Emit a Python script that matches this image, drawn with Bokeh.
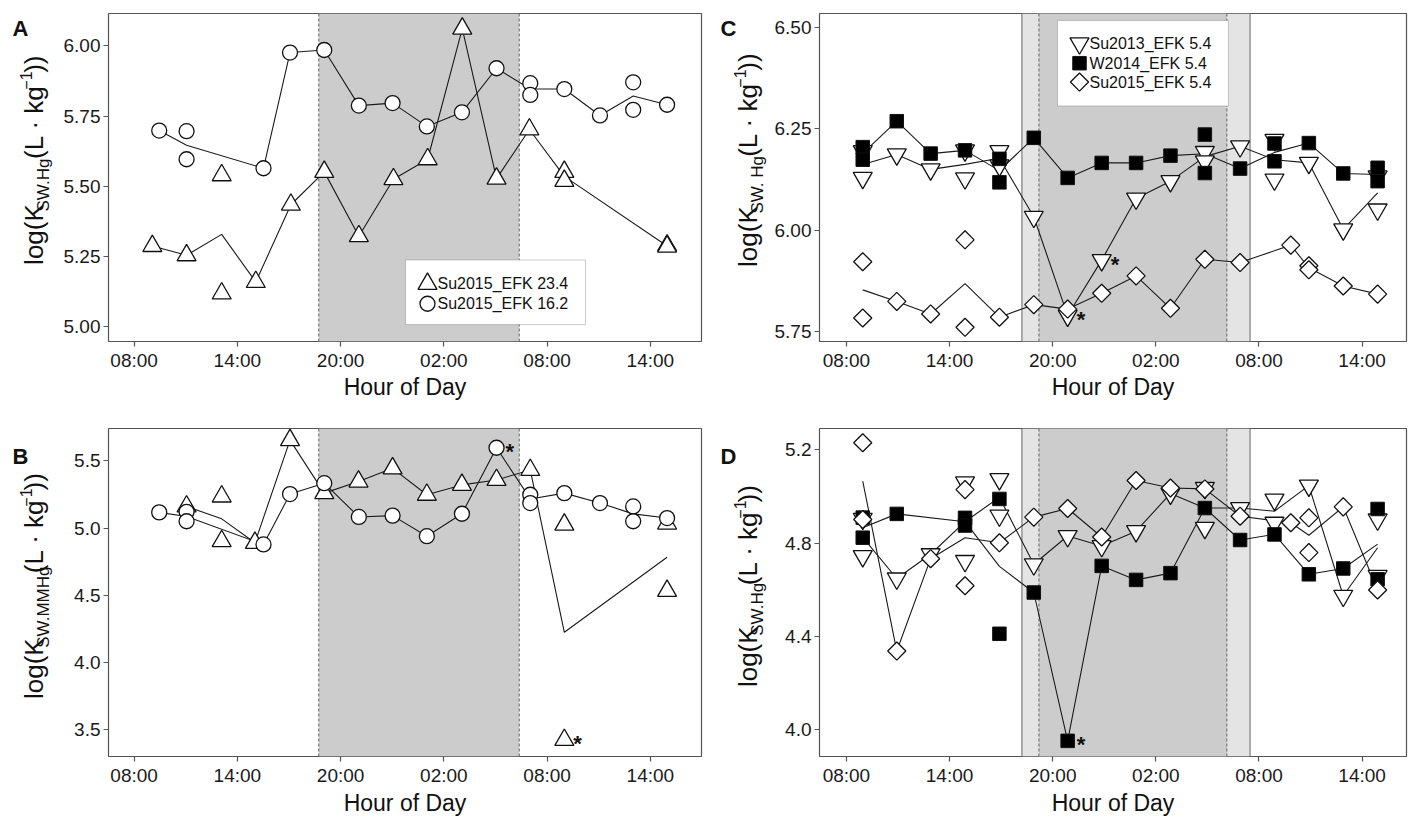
import numpy as np
from bokeh.plotting import figure
from bokeh.models import Label, BoxAnnotation, Span, FixedTicker, Range1d, NumeralTickFormatter
from bokeh.layouts import column, row
from bokeh.embed import file_html
from bokeh.resources import INLINE

FONT = "Liberation Sans"

# ---------------- data ----------------
hour_ticks = [8, 14, 20, 26, 32, 38]
hour_tick_labels = ["08:00", "14:00", "20:00", "02:00", "08:00", "14:00"]

# Panel A  (log K_SW.Hg)
a_su15_234_x = [9.06, 11.05, 13.09, 13.09, 15.07, 17.11, 19.05, 21.06, 23.07, 25.06, 27.07, 29.06, 30.97, 33.0, 33.0, 38.97, 38.97]
a_su15_234_y = [5.287, 5.254, 5.539, 5.118, 5.159, 5.434, 5.551, 5.322, 5.525, 5.596, 6.061, 5.527, 5.702, 5.551, 5.519, 5.289, 5.285]
a_su15_162_x = [9.46, 11.05, 11.05, 15.52, 17.06, 19.05, 21.06, 23.02, 25.01, 27.05, 29.06, 31.02, 31.02, 33.0, 35.07, 37.0, 37.0, 38.97]
a_su15_162_y = [5.698, 5.696, 5.596, 5.564, 5.976, 5.985, 5.787, 5.796, 5.713, 5.763, 5.920, 5.867, 5.825, 5.846, 5.752, 5.870, 5.772, 5.790]

# Panel B  (log K_SW.MMHg)
b_su15_234_x = [11.05, 13.09, 13.09, 15.02, 17.06, 19.05, 21.04, 23.02, 25.01, 27.05, 29.06, 31.02, 33.0, 33.0, 38.97, 38.97]
b_su15_234_y = [5.160, 5.234, 4.902, 4.890, 5.653, 5.259, 5.345, 5.443, 5.247, 5.320, 5.357, 5.431, 5.025, 3.426, 5.033, 4.533]
b_su15_162_x = [9.46, 11.05, 11.05, 15.52, 17.06, 19.05, 21.06, 23.02, 25.01, 27.05, 29.06, 31.02, 31.02, 33.0, 35.07, 37.0, 37.0, 38.97]
b_su15_162_y = [5.116, 5.120, 5.050, 4.878, 5.252, 5.333, 5.082, 5.092, 4.939, 5.106, 5.596, 5.247, 5.185, 5.259, 5.185, 5.160, 5.050, 5.074]

# Panel C  (log K_SW.Hg, EFK 5.4)
c_su13_x = [8.95, 8.95, 10.93, 12.9, 14.9, 14.9, 16.9, 16.9, 18.9, 20.87, 22.85, 24.85, 26.85, 28.85, 28.85, 30.9, 32.9, 32.9, 34.9, 36.9, 38.9, 38.9]
c_su13_y = [6.195, 6.129, 6.187, 6.150, 6.197, 6.128, 6.195, 6.160, 6.033, 5.789, 5.926, 6.078, 6.121, 6.193, 6.170, 6.207, 6.223, 6.125, 6.166, 6.002, 6.133, 6.051]
c_w14_x = [8.95, 8.95, 10.93, 12.9, 14.9, 16.9, 16.9, 18.9, 20.87, 22.85, 24.85, 26.85, 28.85, 28.85, 30.9, 32.9, 32.9, 34.9, 36.9, 38.9, 38.9]
c_w14_y = [6.205, 6.174, 6.269, 6.189, 6.197, 6.176, 6.118, 6.228, 6.129, 6.166, 6.166, 6.184, 6.236, 6.141, 6.152, 6.214, 6.170, 6.215, 6.140, 6.154, 6.121]
c_su15_x = [8.95, 8.95, 10.93, 12.9, 14.9, 14.9, 16.9, 18.9, 20.87, 22.85, 24.85, 26.85, 28.85, 30.9, 33.85, 34.9, 34.9, 36.9, 38.9]
c_su15_y = [5.922, 5.783, 5.824, 5.793, 5.976, 5.760, 5.785, 5.816, 5.805, 5.844, 5.887, 5.807, 5.928, 5.920, 5.963, 5.912, 5.902, 5.862, 5.842]

# Panel D  (log K_SW.Hg)
d_su13_x = [8.95, 8.95, 10.93, 12.9, 14.9, 14.9, 16.9, 16.9, 18.9, 20.87, 22.85, 24.85, 26.85, 28.85, 28.85, 30.9, 32.9, 32.9, 34.9, 36.9, 38.9, 38.9]
d_su13_y = [4.905, 4.745, 4.649, 4.753, 5.061, 4.724, 5.075, 4.919, 4.710, 4.831, 4.788, 4.852, 5.013, 5.037, 4.866, 4.951, 4.987, 4.888, 5.047, 4.575, 4.902, 4.660]
d_w14_x = [8.95, 8.95, 10.93, 14.9, 14.9, 16.9, 16.9, 18.9, 20.87, 22.85, 24.85, 26.85, 28.85, 30.9, 32.9, 34.9, 36.9, 38.9, 38.9]
d_w14_y = [4.910, 4.824, 4.926, 4.909, 4.876, 4.990, 4.412, 4.589, 3.953, 4.703, 4.643, 4.672, 4.951, 4.814, 4.838, 4.667, 4.692, 4.947, 4.646]
d_su15_x = [8.95, 8.95, 10.93, 12.9, 14.9, 14.9, 16.9, 18.9, 20.87, 22.85, 24.85, 26.85, 28.85, 30.9, 33.85, 34.9, 34.9, 36.9, 38.9]
d_su15_y = [5.231, 4.902, 4.338, 4.734, 5.030, 4.618, 4.802, 4.912, 4.949, 4.827, 5.069, 5.037, 5.033, 4.916, 4.888, 4.909, 4.760, 4.956, 4.600]

# night shading (hours)
night_ab = (18.73, 30.38)
twilight_cd = (18.21, 31.48)
night_cd = (19.20, 30.13)

# significant points marked with *
b_star = [(29.06, 5.596), (33.0, 3.426)]
c_star = [(22.85, 5.926), (20.87, 5.789)]
d_star = [(20.87, 3.953)]

# ---------------- helpers ----------------
AW = {'l': .222, 'o': .556, 'g': .556, '(': .333, ')': .333, 'K': .667, 'S': .667, 'W': .944,
      '.': .278, 'H': .722, 'M': .833, 'L': .556, ' ': .278, '·': .333, 'k': .5, '−': .584, '1': .556}


def twidth(s, size):
    return sum(AW.get(ch, .556) for ch in s) * size


def means(xs, ys):
    d = {}
    for x, y in zip(xs, ys):
        d.setdefault(x, []).append(y)
    ks = sorted(d)
    return ks, [float(np.mean(d[k])) for k in ks]


def make_label(x, y, text, size, align="left", baseline="middle", bold=False, angle=0.0):
    return Label(x=x, y=y, text=text, text_font=FONT, text_font_size=f"{size}px", text_color="#111111",
                 text_align=align, text_baseline=baseline, angle=angle,
                 text_font_style="bold" if bold else "normal")


class TextFig:
    """Blank figure whose data coordinates equal absolute page pixels (y downward)."""

    def __init__(self, x0, y0, w, h):
        self.x0, self.y0 = x0, y0
        f = figure(width=w, height=h, x_range=Range1d(0, w), y_range=Range1d(h, 0),
                   x_axis_type=None, y_axis_type=None, output_backend="svg", toolbar_location=None,
                   min_border=0)
        f.outline_line_color = None
        f.background_fill_color = "white"
        f.border_fill_color = "white"
        f.xgrid.visible = False
        f.ygrid.visible = False
        self.p = f

    def label(self, px, py, text, size, **kw):
        self.p.add_layout(make_label(px - self.x0, py - self.y0, text, size, **kw))

    def ylabel(self, xc, ycenter, sub):
        # (text, font size, shift of the text's centre line to the right, gap before the piece)
        pieces = [("log(K", 26, 0, 0), (sub, 17, 9.5, 0), ("(L · kg", 26, 0, 6), ("−1", 16, -8, 5), ("))", 26, 0, 1)]
        total = sum(twidth(t, s) + g for t, s, _, g in pieces)
        y = ycenter + total / 2
        for t, s, dx, g in pieces:
            y -= g
            self.label(xc + dx, y, t, s, align="left", baseline="middle", angle=np.pi / 2)
            y -= twidth(t, s)


class Panel:
    def __init__(self, fx0, fy0, fig_w, fig_h, frame, xr, yr, yticks, yfmt):
        self.fl, self.fr, self.ft, self.fb = frame
        self.xr, self.yr = xr, yr
        p = figure(width=fig_w, height=fig_h, x_range=Range1d(*xr), y_range=Range1d(*yr),
                   output_backend="svg", toolbar_location=None,
                   min_border_left=self.fl - fx0, min_border_right=fx0 + fig_w - self.fr,
                   min_border_top=self.ft - fy0, min_border_bottom=fy0 + fig_h - self.fb)
        p.background_fill_color = "white"
        p.border_fill_color = "white"
        p.outline_line_color = "#555555"
        p.outline_line_width = 1.2
        p.xgrid.visible = False
        p.ygrid.visible = False
        p.xaxis.ticker = FixedTicker(ticks=hour_ticks)
        p.xaxis.major_label_overrides = {t: l for t, l in zip(hour_ticks, hour_tick_labels)}
        p.yaxis.ticker = FixedTicker(ticks=yticks)
        p.yaxis.formatter = NumeralTickFormatter(format=yfmt)
        for ax in (p.xaxis, p.yaxis):
            ax.axis_line_color = None
            ax.major_tick_line_color = "#555555"
            ax.major_tick_line_width = 1.2
            ax.major_tick_out = 5
            ax.major_tick_in = 0
            ax.minor_tick_line_color = None
            ax.major_label_text_font = FONT
            ax.major_label_text_font_size = "19px"
            ax.major_label_text_color = "#1a1a1a"
            ax.major_label_standoff = 3
        self.p = p

    def X(self, px):
        return self.xr[0] + (px - self.fl) / (self.fr - self.fl) * (self.xr[1] - self.xr[0])

    def Y(self, py):
        return self.yr[1] - (py - self.ft) / (self.fb - self.ft) * (self.yr[1] - self.yr[0])

    def PX(self, x):
        return self.fl + (x - self.xr[0]) / (self.xr[1] - self.xr[0]) * (self.fr - self.fl)

    def PY(self, y):
        return self.ft + (self.yr[1] - y) / (self.yr[1] - self.yr[0]) * (self.fb - self.ft)

    def label(self, px, py, text, size, **kw):
        self.p.add_layout(make_label(self.X(px), self.Y(py), text, size, **kw))

    def shade(self, lo, hi, color, edge_dash):
        self.p.add_layout(BoxAnnotation(left=lo, right=hi, fill_color=color, fill_alpha=1.0,
                                        line_color=None, level="underlay"))
        for loc in (lo, hi):
            self.p.add_layout(Span(location=loc, dimension="height", line_color="#666666",
                                   line_width=1, line_dash=edge_dash, level="underlay"))

    def legend_box(self, box, rows):
        l, t, r, b = box
        self.p.add_layout(BoxAnnotation(left=self.X(l), right=self.X(r), top=self.Y(t), bottom=self.Y(b),
                                        fill_color="white", fill_alpha=1.0, line_color="#555555",
                                        line_width=1, level="underlay"))
        for (py, text, style) in rows:
            self.p.scatter([self.X(l + 22)], [self.Y(py)], **style)
            self.label(l + 32, py, text, 16)

    def stars(self, pts):
        for x, y in pts:
            self.label(self.PX(x) + 9, self.PY(y) + 4, "*", 22, bold=True)


LINE = dict(line_color="#1a1a1a", line_width=1.1)
TRI = dict(marker="triangle", size=19, fill_color="white", line_color="#111111", line_width=1.3)
CIR = dict(marker="circle", size=15, fill_color="white", line_color="#111111", line_width=1.3)
ITRI = dict(marker="inverted_triangle", size=19, fill_color="white", line_color="#111111", line_width=1.3)
SQR = dict(marker="square", size=13.5, fill_color="black", line_color="#111111", line_width=1.0)
DIA = dict(marker="square", angle=np.pi / 4, size=12.8, fill_color="white", line_color="#111111", line_width=1.3)


def draw_series(pn, series):
    for xs, ys, _ in series:
        mx, my = means(xs, ys)
        pn.p.line(mx, my, **LINE)
    for xs, ys, style in series:
        pn.p.scatter(xs, ys, **style)


# ---------------- panels ----------------
XR_AB = (6.513, 40.97)
XR_CD = (6.435, 40.58)
TOP_H = 373      # height of top panel figures (frame 13..343, axis below)
BOT_H = 388      # height of bottom panel figures (frame 428..758)

# --- A (cell x 0..710, y 0..400)
LA = TextFig(0, 0, 56, TOP_H)
A = Panel(56, 0, 654, TOP_H, (108, 701, 13, 343), XR_AB, (4.947, 6.115), [5.0, 5.25, 5.5, 5.75, 6.0], "0.00")
XA = TextFig(0, TOP_H, 710, 400 - TOP_H)
A.shade(*night_ab, "#cccccc", "3 2")
A.legend_box((405, 261, 585, 326), [(285, "Su2015_EFK 23.4", TRI), (305, "Su2015_EFK 16.2", CIR)])
draw_series(A, [(a_su15_234_x, a_su15_234_y, TRI), (a_su15_162_x, a_su15_162_y, CIR)])
LA.ylabel(33, 168, "SW.Hg")
LA.label(12, 17, "A", 22, bold=True)
XA.label(404.5, 386.5, "Hour of Day", 23, align="center")

# --- C (cell x 710..1419, y 0..400)
LC = TextFig(710, 0, 60, TOP_H)
C = Panel(770, 0, 649, TOP_H, (819, 1406, 13, 343), XR_CD, (5.725, 6.535), [5.75, 6.0, 6.25, 6.5], "0.00")
XC = TextFig(710, TOP_H, 709, 400 - TOP_H)
C.shade(*twilight_cd, "#e4e4e4", "solid")
C.shade(*night_cd, "#cccccc", "3 2")
C.legend_box((1057, 20, 1228, 106), [(43, "Su2013_EFK 5.4", ITRI), (63, "W2014_EFK 5.4", SQR), (82, "Su2015_EFK 5.4", DIA)])
draw_series(C, [(c_su13_x, c_su13_y, ITRI), (c_w14_x, c_w14_y, SQR), (c_su15_x, c_su15_y, DIA)])
C.stars(c_star)
LC.ylabel(747, 168, "SW. Hg")
LC.label(720, 17, "C", 22, bold=True)
XC.label(1112.5, 386.5, "Hour of Day", 23, align="center")

# --- B (cell x 0..710, y 400..823)
LB = TextFig(0, 400, 56, BOT_H)
B = Panel(56, 400, 654, BOT_H, (108, 701, 428, 758), XR_AB, (3.303, 5.739), [3.5, 4.0, 4.5, 5.0, 5.5], "0.0")
XB = TextFig(0, 400 + BOT_H, 710, 423 - BOT_H)
B.shade(*night_ab, "#cccccc", "3 2")
draw_series(B, [(b_su15_234_x, b_su15_234_y, TRI), (b_su15_162_x, b_su15_162_y, CIR)])
B.stars(b_star)
LB.ylabel(33, 588, "SW.MMHg")
LB.label(12, 433, "B", 22, bold=True)
XB.label(404.5, 802, "Hour of Day", 23, align="center")

# --- D (cell x 710..1419, y 400..823)
LD = TextFig(710, 400, 60, BOT_H)
D = Panel(770, 400, 649, BOT_H, (819, 1406, 428, 758), XR_CD, (3.886, 5.292), [4.0, 4.4, 4.8, 5.2], "0.0")
XD = TextFig(710, 400 + BOT_H, 709, 423 - BOT_H)
D.shade(*twilight_cd, "#e4e4e4", "solid")
D.shade(*night_cd, "#cccccc", "3 2")
draw_series(D, [(d_su13_x, d_su13_y, ITRI), (d_w14_x, d_w14_y, SQR), (d_su15_x, d_su15_y, DIA)])
D.stars(d_star)
LD.ylabel(747, 588, "SW.Hg")
LD.label(720, 433, "D", 22, bold=True)
XD.label(1112.5, 802, "Hour of Day", 23, align="center")

cellA = column(row(LA.p, A.p), XA.p)
cellC = column(row(LC.p, C.p), XC.p)
cellB = column(row(LB.p, B.p), XB.p)
cellD = column(row(LD.p, D.p), XD.p)
layout = column(row(cellA, cellC), row(cellB, cellD))
open("out.html", "w").write(file_html(layout, INLINE))
